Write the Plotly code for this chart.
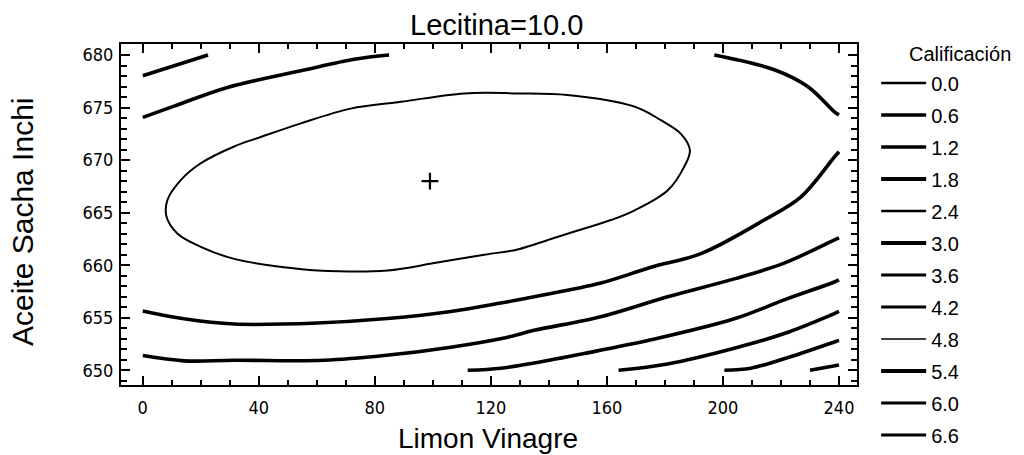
import plotly.graph_objects as go

# ---------------- data ----------------
levels = ["0.0", "0.6", "1.2", "1.8", "2.4", "3.0", "3.6", "4.2", "4.8", "5.4", "6.0", "6.6"]
legend_widths = [2.5, 3.5, 3.5, 4, 2.5, 4, 3, 3, 1.5, 4, 3, 3]

# level 4.8 (closed ellipse, starting at its flat top)
c48_x = [129.2, 110.8, 89.0, 71.7, 54.5, 40.7, 31.5, 20.0, 13.1, 8.5, 8.2, 12.0, 20.0, 31.5, 48.7,
         60.2, 84.4, 100.5, 117.7, 129.2, 140.7, 149.9, 161.4, 169.4, 180.9, 186.7, 188.6, 185.5,
         178.6, 169.4, 146.4, 129.2]
c48_y = [676.35, 676.35, 675.55, 674.9, 673.5, 672.2, 671.3, 669.7, 668.1, 666.2, 664.6, 663.0,
         661.75, 660.6, 659.8, 659.5, 659.5, 660.2, 661.0, 661.5, 662.5, 663.3, 664.3, 665.2, 667.1,
         669.4, 670.95, 672.5, 673.8, 675.1, 676.2, 676.35]

# level 4.2 (three pieces)
c42a_x = [0, 10.8, 29.2, 54.5, 72.9, 84.9]
c42a_y = [674.07, 675.14, 676.92, 678.5, 679.6, 680.0]
c42b_x = [197.0, 217.7, 229.2, 238.4, 240]
c42b_y = [680.0, 678.6, 677.0, 674.6, 674.3]
c42c_x = [0, 14.2, 31.5, 60.2, 83.2, 106.2, 123.4, 134.9, 157.9, 175.2, 192.4, 214.2, 226.9, 238.4, 240]
c42c_y = [655.65, 654.9, 654.4, 654.5, 654.9, 655.6, 656.4, 657.0, 658.3, 659.8, 661.1, 664.3, 666.5,
          670.3, 670.8]

# level 3.6 (two pieces)
c36a_x = [0, 10.8, 22.5]
c36a_y = [678.03, 678.98, 680.0]
c36b_x = [0, 14.2, 31.5, 62.5, 83.2, 106.2, 125.0, 134.9, 157.9, 180.9, 203.9, 221.1, 238.4, 240]
c36b_y = [651.4, 650.9, 650.95, 650.95, 651.4, 652.2, 653.1, 653.8, 655.1, 657.0, 658.7, 660.2,
          662.4, 662.6]

# level 3.0
c30_x = [112.0, 123.4, 134.9, 152.2, 175.2, 203.9, 221.1, 238.4, 240]
c30_y = [650.0, 650.2, 650.7, 651.6, 652.9, 654.9, 656.7, 658.4, 658.6]

# level 2.4
c24_x = [164.0, 180.9, 203.9, 221.1, 238.4, 240]
c24_y = [650.0, 650.6, 652.1, 653.5, 655.4, 655.6]

# level 1.8
c18_x = [200.5, 209.6, 221.1, 238.4, 240]
c18_y = [650.0, 650.2, 651.1, 652.7, 652.85]

# level 1.2
c12_x = [230.0, 240]
c12_y = [650.0, 650.5]

optimum_x = [99]
optimum_y = [668]

x_ticks = [0, 40, 80, 120, 160, 200, 240]
y_ticks = [650, 655, 660, 665, 670, 675, 680]

# ---------------- build figure ----------------
segments = {
    "4.8": [(c48_x, c48_y)],
    "4.2": [(c42a_x, c42a_y), (c42b_x, c42b_y), (c42c_x, c42c_y)],
    "3.6": [(c36a_x, c36a_y), (c36b_x, c36b_y)],
    "3.0": [(c30_x, c30_y)],
    "2.4": [(c24_x, c24_y)],
    "1.8": [(c18_x, c18_y)],
    "1.2": [(c12_x, c12_y)],
}
plot_widths = {"4.8": 2.0}

fig = go.Figure()
for lev, lw in zip(levels, legend_widths):
    segs = segments.get(lev, [])
    fig.add_trace(go.Scatter(
        x=[None], y=[None], mode="lines", name=lev, legendgroup=lev,
        line=dict(color="black", width=lw), showlegend=True, hoverinfo="skip"))
    for sx, sy in segs:
        fig.add_trace(go.Scatter(
            x=sx, y=sy, mode="lines", legendgroup=lev, showlegend=False,
            line=dict(color="black", width=plot_widths.get(lev, 3.6), shape="spline", smoothing=1.0),
            name=lev))

fig.add_trace(go.Scatter(
    x=optimum_x, y=optimum_y, mode="markers", showlegend=False,
    marker=dict(symbol="cross-thin", size=12, line=dict(color="black", width=2.2))))

tickfont = dict(family="Liberation Sans Narrow, Arial Narrow, DejaVu Sans Condensed", size=18, color="black")
axis_common = dict(
    showline=True, linecolor="black", linewidth=2, mirror="allticks",
    ticks="inside", ticklen=9, tickwidth=2, tickcolor="black",
    showgrid=False, zeroline=False, tickfont=tickfont,
)

fig.update_layout(
    width=1024, height=455,
    margin=dict(l=121, r=167, t=44, b=70, autoexpand=False),
    paper_bgcolor="white", plot_bgcolor="white",
    font=dict(family="Liberation Sans, Arial", color="black"),
    xaxis=dict(range=[-7.5, 246.2], tickvals=x_ticks, ticktext=[str(v) for v in x_ticks],
               minor=dict(dtick=10, ticklen=5, tickwidth=1.5, tickcolor="black", ticks="inside"),
               ticklabelstandoff=5, automargin=False, **axis_common),
    yaxis=dict(range=[648.6, 681.05], tickvals=y_ticks, ticktext=[str(v) for v in y_ticks],
               minor=dict(dtick=1, ticklen=6, tickwidth=1.5, tickcolor="black", ticks="inside"),
               ticklabelstandoff=2, automargin=False, **axis_common),
    legend=dict(
        x=1.026, xanchor="left", y=0.943, yanchor="top",
        font=dict(size=20, color="black"),
        tracegroupgap=3, itemwidth=45, bgcolor="rgba(0,0,0,0)", maxheight=440,
    ),
    annotations=[
        dict(text="Lecitina=10.0", xref="paper", yref="paper", x=(496 - 121) / 736, y=(385 - 25) / 341,
             xanchor="center", yanchor="middle", showarrow=False, font=dict(size=29)),
        dict(text="Limon Vinagre", xref="paper", yref="paper", x=(488 - 121) / 736, y=(385 - 438) / 341,
             xanchor="center", yanchor="middle", showarrow=False, font=dict(size=28)),
        dict(text="Aceite Sacha Inchi", xref="paper", yref="paper", x=(22 - 121) / 736, y=(385 - 222) / 341,
             xanchor="center", yanchor="middle", showarrow=False, textangle=-90, font=dict(size=30)),
        dict(text="Calificación", xref="paper", yref="paper", x=(960 - 121) / 736, y=(385 - 54) / 341,
             xanchor="center", yanchor="middle", showarrow=False, font=dict(size=20)),
    ],
)

fig.write_html("out.html")
